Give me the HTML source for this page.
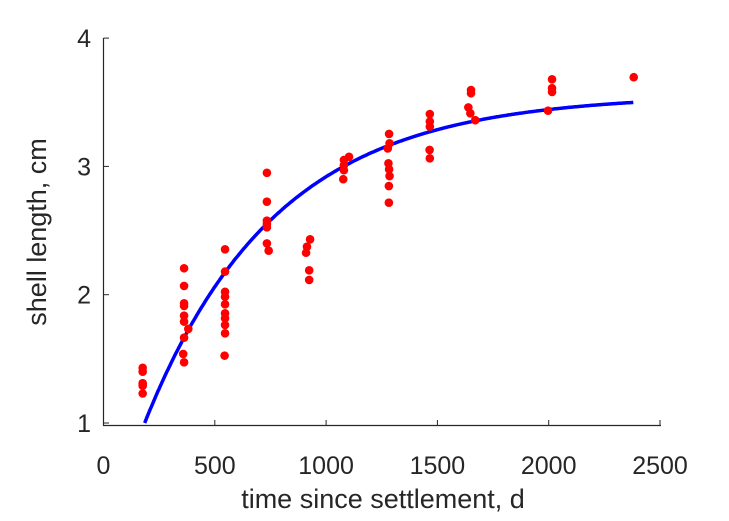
<!DOCTYPE html>
<html><head><meta charset="utf-8"><style>
body{margin:0;background:#fff}
svg{display:block;font-family:"Liberation Sans",sans-serif}
</style></head><body>
<svg id="c" width="729" height="521"></svg>
<script>
const xTicks=[0,500,1000,1500,2000,2500];
const yTicks=[1,2,3,4];
const times=[176,176,176,176,176,176,
362,362,362,362,362,362,381,362,358,362,
546,546,546,546,546,546,546,546,546,544,
734,734,734,734,734,734,742,
928,914,910,924,924,
1103,1080,1080,1080,1077,
1283,1285,1277,1280,1283,1285,1282,1282,
1466,1466,1466,1465,1466,
1651,1651,1639,1648,1670,
2015,2015,2015,1997,
2382];
const lengths=[1.43,1.40,1.31,1.30,1.29,1.23,
2.206,2.068,1.933,1.912,1.837,1.79,1.733,1.665,1.538,1.473,
2.354,2.18,2.023,1.984,1.925,1.855,1.816,1.764,1.699,1.525,
2.95,2.725,2.577,2.551,2.525,2.40,2.343,
2.432,2.374,2.327,2.19,2.115,
3.075,3.05,3.01,2.97,2.90,
3.253,3.18,3.14,3.024,2.977,2.925,2.847,2.717,
3.408,3.35,3.31,3.128,3.063,
3.595,3.57,3.46,3.414,3.36,
3.679,3.61,3.58,3.434,
3.695];
const fitParams=[3.56,0.0017,-9]; // Linf, k, t0
const fitRange=[185,2380];
const NS="http://www.w3.org/2000/svg";
const svg=document.getElementById('c');
const x=t=>103.5+t*(556.5/2500);
const y=v=>423-(v-1)*128.3;
function mk(tag,at,txt){const e=document.createElementNS(NS,tag);for(const k in at)e.setAttribute(k,at[k]);if(txt!==undefined)e.textContent=txt;svg.appendChild(e);return e;}
let e;
e=mk('line',{x1:103.5,y1:38,x2:103.5,y2:425.5,stroke:'#262626','stroke-width':1.2});


e=mk('line',{x1:103,y1:425.5,x2:661,y2:425.5,stroke:'#262626','stroke-width':1.2});


xTicks.forEach(t=>{
 e=mk('line',{x1:x(t),y1:425.5,x2:x(t),y2:420,stroke:'#262626','stroke-width':1});
 
 
 e=mk('text',{x:x(t),y:474,'text-anchor':'middle','font-size':25,fill:'#262626'},String(t));
 
 
});
yTicks.forEach(v=>{
 e=mk('line',{x1:103.5,y1:y(v),x2:109,y2:y(v),stroke:'#262626','stroke-width':1});
 
 
 e=mk('text',{x:91,y:y(v)+9,'text-anchor':'end','font-size':25,fill:'#262626'},String(v));
 
 
});
e=mk('text',{x:383,y:508,'text-anchor':'middle','font-size':27,fill:'#262626'},'time since settlement, d');


e=mk('text',{x:0,y:0,'text-anchor':'middle','font-size':27,fill:'#262626',transform:'translate(46,232) rotate(-90)'},'shell length, cm');


let d='';
for(let t=fitRange[0];t<=fitRange[1];t+=5){const v=fitParams[0]*(1-Math.exp(-fitParams[1]*(t-fitParams[2])));d+=(d?'L':'M')+x(t).toFixed(1)+','+y(v).toFixed(1);}
e=mk('path',{d:d,fill:'none',stroke:'#0000ff','stroke-width':3.5});


times.forEach((t,i)=>{
 e=mk('circle',{cx:x(t),cy:y(lengths[i]),r:4.3,fill:'#ff0000'});
 
 
});
</script>
</body></html>
